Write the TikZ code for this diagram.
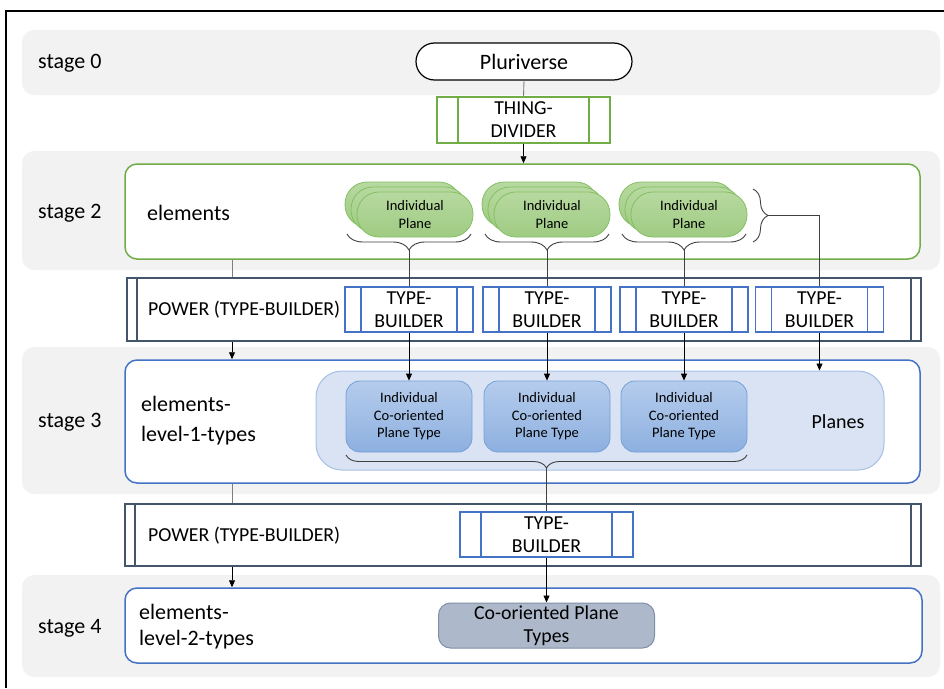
\documentclass[tikz,border=0pt]{standalone}
\usepackage{fontspec}
\setmainfont{Carlito}
\usetikzlibrary{arrows.meta,decorations.pathreplacing,calc}

\definecolor{band}{HTML}{F2F2F2}
\definecolor{grn}{HTML}{70AD47}
\definecolor{grntop}{HTML}{B7D9A0}
\definecolor{grnbot}{HTML}{9FCB82}
\definecolor{grnedge}{HTML}{84BF62}
\definecolor{slate}{HTML}{44546A}
\definecolor{blu}{HTML}{4472C4}
\definecolor{planefill}{HTML}{DAE3F3}
\definecolor{planeedge}{HTML}{A4C0E6}
\definecolor{cotop}{HTML}{B5CCEC}
\definecolor{cobot}{HTML}{8DB0E0}
\definecolor{coedge}{HTML}{74A0D8}
\definecolor{typesfill}{HTML}{ADB9CA}
\definecolor{typesedge}{HTML}{7F8FA6}
\definecolor{conn}{HTML}{7F7F7F}
\definecolor{bracec}{HTML}{404040}

\begin{document}
\begin{tikzpicture}[x=1pt,y=-1pt,
  lbl/.style={font=\fontsize{22}{30}\selectfont, anchor=west, inner sep=0pt, align=left},
  mid/.style={font=\fontsize{19.8}{23}\selectfont, align=center},
  small/.style={font=\fontsize{14.5}{17.5}\selectfont, align=center},
  stagebox/.style={draw=#1, line width=1.5pt, fill=white, rounded corners=12pt, inner sep=0pt},
  pproc/.style n args={3}{draw=#2, line width=#3, fill=white, rectangle, inner sep=0pt,
    path picture={\draw[#2, line width=#3]
      ([xshift=#1]path picture bounding box.north west) -- ([xshift=#1]path picture bounding box.south west)
      ([xshift=-#1]path picture bounding box.north east) -- ([xshift=-#1]path picture bounding box.south east);}},
  plane/.style={draw=grnedge, line width=0.8pt, top color=grntop, bottom color=grnbot,
    rounded corners=22pt, minimum width=116pt, minimum height=45pt, inner sep=0pt},
  cotype/.style={draw=coedge, line width=0.8pt, top color=cotop, bottom color=cobot,
    rounded corners=14pt, minimum width=126pt, minimum height=71pt, inner sep=0pt},
  arr/.style={-{Triangle[length=7pt,width=6pt]}, line width=0.8pt, black},
  link/.style={line width=0.9pt, conn},
  brlink/.style={line width=0.9pt, bracec},
  dncurly/.style={decorate, decoration={brace, amplitude=#1, mirror}, line width=0.9pt, bracec},
  rtcurly/.style={decorate, decoration={brace, amplitude=#1}, line width=0.9pt, bracec},
]
\useasboundingbox (0,0) rectangle (944,688);

% outer frame
\draw[line width=2pt] (6,688) -- (6,11) -- (944,11);

% stage bands
\fill[band, rounded corners=12pt] (22,30) rectangle (940,95);
\fill[band, rounded corners=12pt] (22,151) rectangle (940,270);
\fill[band, rounded corners=12pt] (22,347) rectangle (940,494);
\fill[band, rounded corners=12pt] (22,575) rectangle (940,677);

% stage labels
\node[lbl] (s0) at (38,63) {stage 0};
\node[lbl] (s2) at (38,213) {stage 2};
\node[lbl] (s3) at (38,422) {stage 3};
\node[lbl] (s4) at (38,628) {stage 4};

% stage 0
\node[draw=black, line width=1.2pt, fill=white, rounded corners=18.5pt,
      minimum width=216pt, minimum height=37pt, inner sep=0pt,
      font=\fontsize{22}{26}\selectfont] (pluri) at (524,61.5) {Pluriverse};
\node[pproc={21pt}{grn}{1.2pt}, minimum width=173pt, minimum height=46pt, mid]
      (thing) at (523.5,120) {THING-\\DIVIDER};

% stage 2
\node[stagebox=grn, minimum width=795pt, minimum height=95pt] (elem) at (522.5,211.5) {};
\node[lbl] (elemlbl) at (147,213) {elements};

\foreach \cx/\nm in {415/ipa, 552/ipb, 689/ipc}{
  \node[plane] (\nm back) at (\cx-12,204.5) {};
  \node[plane] (\nm mid) at (\cx-6,209.5) {};
  \node[plane, small] (\nm) at (\cx,214.5) {Individual\\Plane};
}

\coordinate (b1a) at (347,234); \coordinate (b1b) at (471,234); \coordinate (b1tip) at (409,250);
\coordinate (b2a) at (485,234); \coordinate (b2b) at (609,234); \coordinate (b2tip) at (547,250);
\coordinate (b3a) at (622,234); \coordinate (b3b) at (746,234); \coordinate (b3tip) at (684,250);
\coordinate (b4a) at (753,189); \coordinate (b4b) at (753,242); \coordinate (b4tip) at (768,215.5);
\draw[dncurly=16pt] (b1a) -- (b1b);
\draw[dncurly=16pt] (b2a) -- (b2b);
\draw[dncurly=16pt] (b3a) -- (b3b);
\draw[rtcurly=15pt] (b4a) -- (b4b);

% first power type-builder
\node[pproc={10pt}{slate}{1.8pt}, minimum width=794pt, minimum height=63pt] (power1) at (524,309.5) {};
\node[mid, anchor=west, inner sep=0pt] (pw1lbl) at (148,310) {POWER (TYPE-BUILDER)};
\node[pproc={16pt}{blu}{1.3pt}, minimum width=128pt, minimum height=45pt, mid] (tb1) at (409,309.5) {TYPE-\\BUILDER};
\node[pproc={16pt}{blu}{1.3pt}, minimum width=128pt, minimum height=45pt, mid] (tb2) at (547,309.5) {TYPE-\\BUILDER};
\node[pproc={16pt}{blu}{1.3pt}, minimum width=128pt, minimum height=45pt, mid] (tb3) at (684,309.5) {TYPE-\\BUILDER};
\node[pproc={16pt}{blu}{1.3pt}, minimum width=128pt, minimum height=45pt, mid] (tb4) at (819.5,309.5) {TYPE-\\BUILDER};

% stage 3
\node[stagebox=blu, minimum width=795pt, minimum height=123pt] (st3) at (522.5,421.5) {};
\node[lbl] (st3lbl) at (141,421) {elements-\\level-1-types};
\node[draw=planeedge, line width=1pt, fill=planefill, rounded corners=26pt,
      minimum width=568pt, minimum height=99pt, inner sep=0pt] (planes) at (600,420.5) {};
\node[font=\fontsize{20}{24}\selectfont] (planeslbl) at (838,422) {Planes};
\node[cotype, small] (co1) at (409,416.5) {Individual\\Co-oriented\\Plane Type};
\node[cotype, small] (co2) at (547,416.5) {Individual\\Co-oriented\\Plane Type};
\node[cotype, small] (co3) at (684,416.5) {Individual\\Co-oriented\\Plane Type};
\coordinate (b5a) at (346,455); \coordinate (b5b) at (747,455); \coordinate (b5tip) at (546.5,468);
\draw[dncurly=13pt] (b5a) -- (b5b);

% second power type-builder
\node[pproc={10pt}{slate}{1.8pt}, minimum width=796pt, minimum height=62pt] (power2) at (523,535) {};
\node[mid, anchor=west, inner sep=0pt] (pw2lbl) at (148,536) {POWER (TYPE-BUILDER)};
\node[pproc={21pt}{blu}{1.3pt}, minimum width=173pt, minimum height=45pt, mid] (tb5) at (546.5,534.5) {TYPE-\\BUILDER};

% stage 4
\node[stagebox=blu, minimum width=797pt, minimum height=75pt] (st4) at (523.5,625.5) {};
\node[lbl, font=\fontsize{22}{26}\selectfont] (st4lbl) at (139,627) {elements-\\level-2-types};
\node[draw=typesedge, line width=1pt, fill=typesfill, rounded corners=12pt,
      minimum width=216pt, minimum height=45pt, inner sep=0pt, mid] (copt) at (546.5,625.5) {Co-oriented Plane\\Types};

% connectors
\coordinate (lx) at (232,0);
\draw[link] (pluri.south) -- (thing.north);
\draw[arr] (thing.south) -- (elem.north -| thing.south);
\draw[link] (elem.south -| lx) -- (power1.north -| lx);
\draw[arr] (power1.south -| lx) -- (st3.north -| lx);
\draw[brlink] (b1tip) -- (tb1.north);
\draw[brlink] (b2tip) -- (tb2.north);
\draw[brlink] (b3tip) -- (tb3.north);
\draw[brlink] (b4tip) -| (tb4.north);
\draw[arr] (tb1.south) -- (co1.north);
\draw[arr] (tb2.south) -- (co2.north);
\draw[arr] (tb3.south) -- (co3.north);
\draw[arr] (tb4.south) -- (planes.north -| tb4.south);
\draw[link] (st3.south -| lx) -- (power2.north -| lx);
\draw[arr] (power2.south -| lx) -- (st4.north -| lx);
\draw[brlink] (b5tip) -- (tb5.north);
\draw[arr] (tb5.south) -- (copt.north);
\end{tikzpicture}
\end{document}
